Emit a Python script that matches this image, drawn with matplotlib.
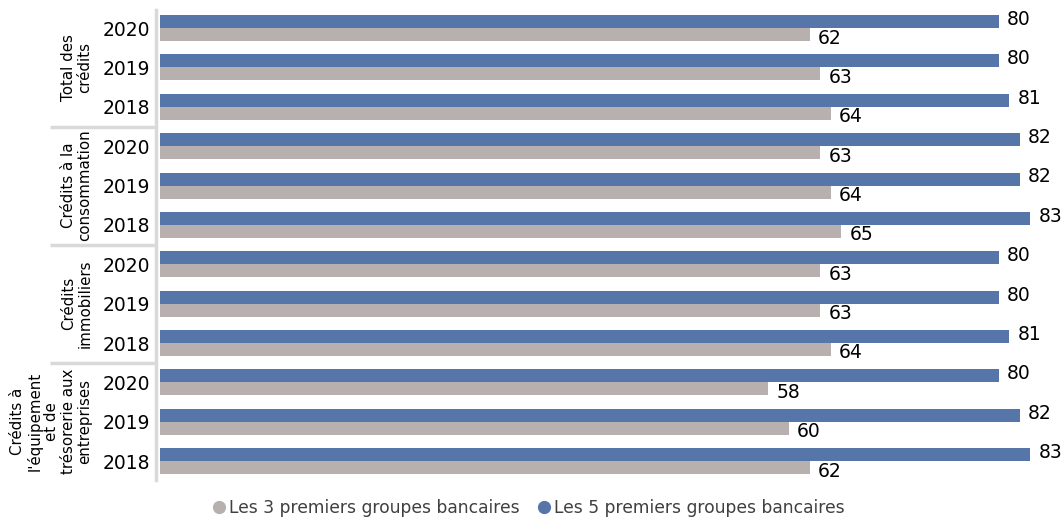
import matplotlib
matplotlib.use("Agg")
import matplotlib.pyplot as plt
from matplotlib.lines import Line2D
import matplotlib.transforms as mtransforms
import numpy as np

# Data
groups = [
    "Total des\ncrédits",
    "Crédits à la\nconsommation",
    "Crédits\nimmobiliers",
    "Crédits à\nl'équipement\net de\ntrésorerie aux\nentreprises",
]
years = ["2020", "2019", "2018"]
top5 = [80, 80, 81, 82, 82, 83, 80, 80, 81, 80, 82, 83]
top3 = [62, 63, 64, 63, 64, 65, 63, 63, 64, 58, 60, 62]
series_names = ["Les 3 premiers groupes bancaires", "Les 5 premiers groupes bancaires"]

blue = "#5675A9"
grey = "#B8AFAF"
sep_color = "#D9D9D9"

fig = plt.figure(figsize=(10.61, 5.2), dpi=100)
ax = fig.add_axes([160 / 1061, 1 - 480 / 520, 870 / 1061, 470 / 520])

n = len(top5)
y = np.arange(n)
h = 0.33
ax.barh(y - h / 2, top5, height=h, color=blue, zorder=2)
ax.barh(y + h / 2, top3, height=h, color=grey, zorder=2)

ax.set_xlim(0, 83)
ax.set_ylim(n - 1 + 0.48, -0.46)

# Value labels
for i in range(n):
    ax.annotate(str(top5[i]), (top5[i], y[i] - h / 2), xytext=(6, 1.5),
                textcoords="offset points", ha="left", va="center",
                fontsize=13.5, color="black")
    ax.annotate(str(top3[i]), (top3[i], y[i] + h / 2), xytext=(6, -2.5),
                textcoords="offset points", ha="left", va="center",
                fontsize=13.5, color="black")

# Axis styling
for s in ["top", "right", "bottom"]:
    ax.spines[s].set_visible(False)
ax.spines["left"].set_color(sep_color)
ax.spines["left"].set_linewidth(2.5)
ax.spines["left"].set_position(("outward", 3))
ax.set_xticks([])
ax.set_yticks(y)
ax.set_yticklabels(years * len(groups), fontsize=13.5)
ax.tick_params(axis="y", length=0, pad=4)

# Group labels and separators
trans = mtransforms.blended_transform_factory(ax.transAxes, ax.transData)
for g, label in enumerate(groups):
    center = g * 3 + 1
    ax.text(-0.078, center, label, rotation=90, ha="right", va="center",
            multialignment="center", fontsize=10.8, transform=trans,
            linespacing=1.12)
    if g > 0:
        ax.plot([-0.126, -0.003], [g * 3 - 0.5, g * 3 - 0.5], color=sep_color,
                lw=2.5, transform=trans, clip_on=False, solid_capstyle="butt")

# Legend
handles = [
    Line2D([], [], marker="o", linestyle="none", markersize=8.5,
           markerfacecolor=grey, markeredgecolor=grey),
    Line2D([], [], marker="o", linestyle="none", markersize=8.5,
           markerfacecolor=blue, markeredgecolor=blue),
]
leg = fig.legend(handles, series_names, loc="center", bbox_to_anchor=(0.497, 0.023),
                 ncol=2, frameon=False, fontsize=12.3, handletextpad=0.1,
                 columnspacing=0.9, handlelength=1.0)
for t in leg.get_texts():
    t.set_color("#404040")

fig.savefig("out.png", dpi=100)
